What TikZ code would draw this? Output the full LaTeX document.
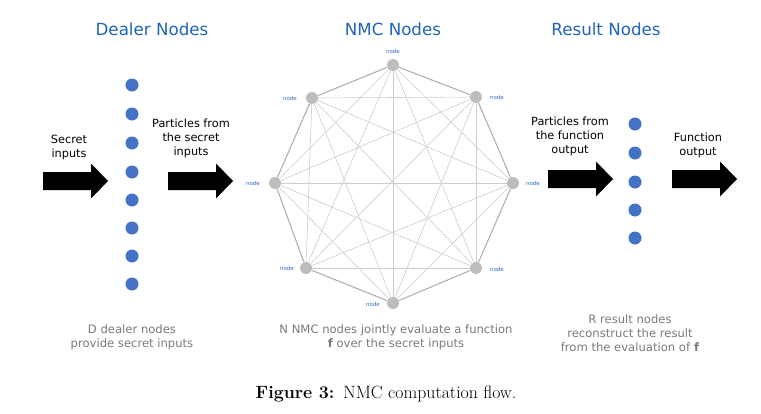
\documentclass[tikz,border=0pt]{standalone}
\usepackage{fontspec}
\setsansfont{DejaVu Sans}
\definecolor{titleblue}{HTML}{1F65B8}
\definecolor{dotblue}{HTML}{4472C4}
\definecolor{nodegray}{HTML}{BDBDBD}
\definecolor{outeredge}{HTML}{B0B0B0}
\definecolor{inneredge}{HTML}{CDCDCD}
\definecolor{notegray}{HTML}{7A7A7A}
\definecolor{labelblue}{HTML}{2E6BC0}
\begin{document}
\begin{tikzpicture}[x=1pt,y=-1pt,
  title/.style={font=\sffamily\fontsize{16.7}{20}\selectfont, text=titleblue},
  body/.style={font=\sffamily\fontsize{11.3}{14}\selectfont, align=center, inner sep=0pt},
  note/.style={font=\sffamily\fontsize{11.6}{14}\selectfont, text=notegray, align=center, inner sep=0pt},
  dot/.style={circle, fill=dotblue, minimum size=13pt, inner sep=0pt},
  mnode/.style={circle, fill=nodegray, minimum size=12pt, inner sep=0pt},
  nlabel/.style={font=\sffamily\fontsize{5.5}{6}\selectfont, text=labelblue},
  outer/.style={draw=outeredge, line width=1.1pt},
  inner/.style={draw=inneredge, line width=0.6pt},
  blockarrow/.pic={\fill[black] (0,-9)--(48,-9)--(48,-17.5)--(65,0)--(48,17.5)--(48,9)--(0,9)--cycle;}
]
\useasboundingbox (0,0) rectangle (761,413);

% titles
\node[title] (t1) at (152,29) {Dealer Nodes};
\node[title] (t2) at (393,29) {NMC Nodes};
\node[title] (t3) at (606,29) {Result Nodes};

% dealer dots
\foreach \i/\y in {1/85,2/114,3/143,4/172,5/200,6/228,7/256,8/284}
  \node[dot] (d\i) at (132,\y) {};

% result dots
\foreach \i/\y in {1/124,2/153,3/182,4/210,5/238}
  \node[dot] (r\i) at (635,\y) {};

% block arrows
\pic at (43,181) {blockarrow};
\pic at (168,181) {blockarrow};
\pic at (548,179) {blockarrow};
\pic at (672,179) {blockarrow};

% arrow texts
\node[body] (s1) at (69,147.5) {Secret\\inputs};
\node[body] (s2) at (191,138) {Particles from\\the secret\\inputs};
\node[body] (s3) at (570,136) {Particles from\\the function\\output};
\node[body] (s4) at (698,145) {Function\\output};

% NMC nodes
\node[mnode] (n1) at (393,65) {};
\node[mnode] (n2) at (476,97) {};
\node[mnode] (n3) at (513,183) {};
\node[mnode] (n4) at (476,268) {};
\node[mnode] (n5) at (393,303) {};
\node[mnode] (n6) at (306,268) {};
\node[mnode] (n7) at (275,183) {};
\node[mnode] (n8) at (312,98) {};

% inner edges
\foreach \a/\b in {1/3,1/4,1/5,1/6,1/7,2/4,2/5,2/6,2/7,2/8,3/5,3/6,3/7,3/8,4/6,4/7,4/8,5/7,5/8,6/8}
  \draw[inner] (n\a) -- (n\b);
% outer edges
\foreach \a/\b in {1/2,2/3,3/4,4/5,5/6,6/7,7/8,8/1}
  \draw[outer] (n\a) -- (n\b);

% node labels
\node[nlabel] (l1) at (393,51) {node};
\node[nlabel] (l2) at (497,97) {node};
\node[nlabel] (l3) at (533,183) {node};
\node[nlabel] (l4) at (497,269) {node};
\node[nlabel] (l5) at (373,304) {node};
\node[nlabel] (l6) at (287,268) {node};
\node[nlabel] (l7) at (253,183) {node};
\node[nlabel] (l8) at (290,98) {node};

% notes
\node[note] (m1) at (132,337) {D dealer nodes\\provide secret inputs};
\node[note] (m2) at (396,337.5) {N NMC nodes jointly evaluate a function\\\textbf{f} over the secret inputs};
\node[note] (m3) at (630,333.5) {R result nodes\\reconstruct the result\\from the evaluation of \textbf{f}};

% caption
\node[font=\fontsize{17.8}{20}\selectfont] (cap) at (386,394) {\textbf{Figure 3:}\enspace NMC computation flow.};
\end{tikzpicture}
\end{document}
